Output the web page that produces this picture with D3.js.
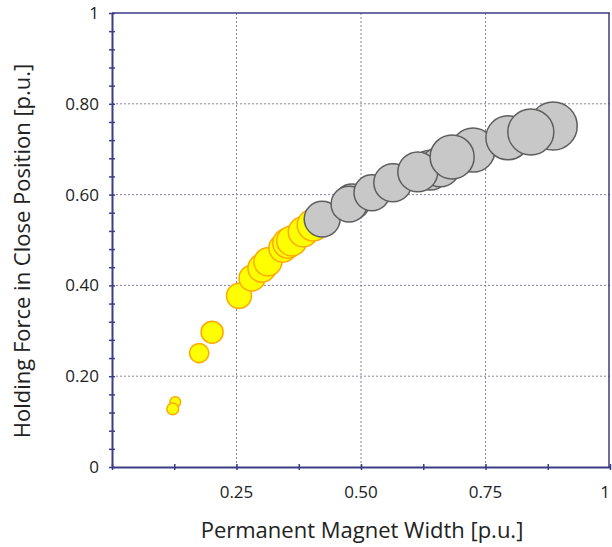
<!DOCTYPE html>
<html>
<head>
<meta charset="utf-8">
<script src="https://cdn.jsdelivr.net/npm/d3@7"></script>
<style>
  body { margin: 0; background: #fff; }
  svg { display: block; font-family: "Open Sans", sans-serif; }
</style>
</head>
<body>
<div id="chart"></div>
<script>
// bubble series (x, y in p.u., size = relative bubble area)
const yellowX    = [0.127, 0.122, 0.175, 0.201, 0.255, 0.281, 0.301, 0.313, 0.343, 0.353, 0.361, 0.384, 0.404];
const yellowY    = [0.143, 0.128, 0.251, 0.297, 0.377, 0.416, 0.438, 0.452, 0.482, 0.493, 0.498, 0.518, 0.533];
const yellowSize = [0.05, 0.06, 0.16, 0.21, 0.27, 0.29, 0.34, 0.34, 0.34, 0.39, 0.39, 0.39, 0.44];

const grayX    = [0.422, 0.482, 0.476, 0.522, 0.564, 0.639, 0.659, 0.614, 0.725, 0.683, 0.886, 0.795, 0.841];
const grayY    = [0.546, 0.584, 0.579, 0.604, 0.626, 0.654, 0.661, 0.650, 0.698, 0.683, 0.751, 0.725, 0.738];
const graySize = [0.56, 0.56, 0.56, 0.56, 0.63, 0.69, 0.69, 0.69, 0.84, 0.84, 1.0, 0.84, 0.92];

const xTicks = [0.25, 0.5, 0.75, 1];
const xTickLabels = ["0.25", "0.50", "0.75", "1"];
const yTicks = [0, 0.2, 0.4, 0.6, 0.8, 1];
const yTickLabels = ["0", "0.20", "0.40", "0.60", "0.80", "1"];

const xTitle = "Permanent Magnet Width [p.u.]";
const yTitle = "Holding Force in Close Position [p.u.]";

var width = 612, height = 547;
var margin = { top: 13, right: 2, bottom: 80, left: 112 };

var svg = d3.select("#chart")
    .append("svg")
    .attr("width", width)
    .attr("height", height);

var x = d3.scaleLinear()
    .domain([0, 1])
    .range([margin.left, width - margin.right]);

var y = d3.scaleLinear()
    .domain([0, 1])
    .range([height - margin.bottom, margin.top]);

var r = d3.scaleSqrt()
    .domain([0, 1])
    .range([0, 24]);

var axisColor = "#3d3d85";

// grid
svg.append("g")
    .selectAll("line")
    .data(xTicks.filter(d => d < 1))
    .join("line")
    .attr("x1", d => x(d)).attr("x2", d => x(d))
    .attr("y1", y(0)).attr("y2", y(1))
    .attr("stroke", "#8585a8")
    .attr("stroke-width", 1)
    .attr("stroke-dasharray", "2,2");

svg.append("g")
    .selectAll("line")
    .data(yTicks.filter(d => d > 0 && d < 1))
    .join("line")
    .attr("x1", x(0)).attr("x2", x(1))
    .attr("y1", d => y(d)).attr("y2", d => y(d))
    .attr("stroke", "#8585a8")
    .attr("stroke-width", 1)
    .attr("stroke-dasharray", "2,2");

// frame top + right
svg.append("line")
    .attr("x1", x(0)).attr("x2", x(1))
    .attr("y1", y(1)).attr("y2", y(1))
    .attr("stroke", axisColor).attr("stroke-width", 1.5);
svg.append("line")
    .attr("x1", x(1) - 1).attr("x2", x(1) - 1)
    .attr("y1", y(1)).attr("y2", y(0))
    .attr("stroke", axisColor).attr("stroke-width", 1.5);

// bubbles
function bubbles(xs, ys, ss, fill, stroke) {
    var data = xs.map((d, i) => ({ x: d, y: ys[i], s: ss[i] }));
    svg.append("g")
        .selectAll("circle")
        .data(data)
        .join("circle")
        .attr("cx", d => x(d.x))
        .attr("cy", d => y(d.y))
        .attr("r", d => r(d.s))
        .attr("fill", fill)
        .attr("stroke", stroke)
        .attr("stroke-width", 1.5);
}
bubbles(yellowX, yellowY, yellowSize, "#ffff00", "#ffa800");
bubbles(grayX, grayY, graySize, "#c8c8c8", "#5e5e5e");

// axes
var xAxis = svg.append("g")
    .attr("transform", `translate(0, ${y(0)})`)
    .call(d3.axisBottom(x)
        .tickValues(d3.range(0, 9).map(i => i * 0.125))
        .tickSizeInner(3).tickSizeOuter(0)
        .tickFormat(""));
var yAxis = svg.append("g")
    .attr("transform", `translate(${x(0)}, 0)`)
    .call(d3.axisLeft(y)
        .tickValues(d3.range(0, 26).map(i => i * 0.04))
        .tickSizeInner(3).tickSizeOuter(0)
        .tickFormat(""));

[xAxis, yAxis].forEach(function (g) {
    g.select(".domain").attr("stroke", axisColor).attr("stroke-width", 2);
    g.selectAll(".tick line").attr("stroke", axisColor).attr("stroke-width", 1.5);
});
// ticks cross the axis
xAxis.selectAll(".tick line").attr("y1", -3).attr("y2", 3);
yAxis.selectAll(".tick line").attr("x1", -3).attr("x2", 3);

// tick labels
svg.append("g")
    .selectAll("text")
    .data(xTicks)
    .join("text")
    .attr("x", d => Math.min(x(d), width - 7))
    .attr("y", y(0) + 31)
    .attr("text-anchor", "middle")
    .attr("font-size", 17)
    .attr("fill", "#222")
    .text((d, i) => xTickLabels[i]);

svg.append("g")
    .selectAll("text")
    .data(yTicks)
    .join("text")
    .attr("x", x(0) - 13)
    .attr("y", d => y(d))
    .attr("dy", "0.35em")
    .attr("text-anchor", "end")
    .attr("font-size", 17)
    .attr("fill", "#222")
    .text((d, i) => yTickLabels[i]);

// axis titles
svg.append("text")
    .attr("x", 362)
    .attr("y", 538)
    .attr("text-anchor", "middle")
    .attr("font-size", 22)
    .attr("fill", "#222")
    .text(xTitle);

svg.append("text")
    .attr("transform", "translate(30, 251) rotate(-90)")
    .attr("text-anchor", "middle")
    .attr("font-size", 22)
    .attr("fill", "#222")
    .text(yTitle);
</script>
</body>
</html>
